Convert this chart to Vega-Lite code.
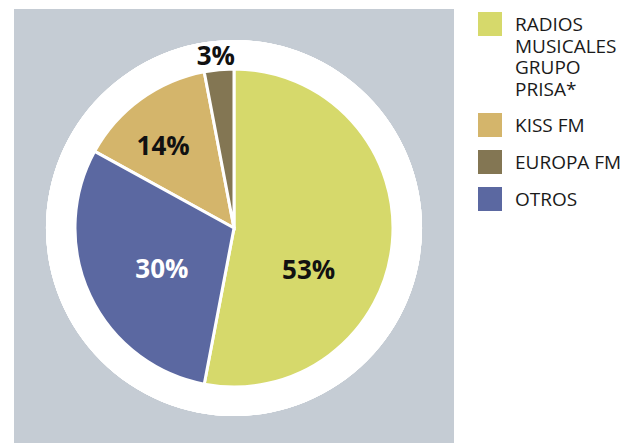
{
  "$schema": "https://vega.github.io/schema/vega-lite/v6.json",
  "width": 440,
  "height": 438,
  "autosize": {"type": "none"},
  "padding": {"left": 14, "top": 9, "right": 174, "bottom": 0},
  "background": "white",
  "view": {"fill": "#C5CCD4", "stroke": null},
  "data": {
    "values": [
      {"cat": "RADIOS MUSICALES GRUPO PRISA*", "v": 53, "pct": "53%"},
      {"cat": "KISS FM", "v": 14, "pct": "14%"},
      {"cat": "EUROPA FM", "v": 3, "pct": "3%"},
      {"cat": "OTROS", "v": 30, "pct": "30%"}
    ]
  },
  "layer": [
    {
      "mark": {"type": "arc", "radius": 188, "theta": 6.2832, "fill": "white", "stroke": null}
    },
    {
      "mark": {"type": "arc", "outerRadius": 159, "stroke": "white", "strokeWidth": 3},
      "encoding": {
        "theta": {"field": "v", "type": "quantitative", "stack": true},
        "order": {"field": "cat", "sort": "descending"},
        "color": {
          "field": "cat",
          "type": "nominal",
          "scale": {
            "domain": ["RADIOS MUSICALES GRUPO PRISA*", "KISS FM", "EUROPA FM", "OTROS"],
            "range": ["#D6D96B", "#D4B56B", "#837653", "#5B68A1"]
          },
          "legend": {
            "title": null,
            "orient": "none",
            "legendX": 464,
            "legendY": 3,
            "padding": 0,
            "symbolType": "square",
            "symbolSize": 576,
            "symbolStrokeWidth": 0,
            "symbolOpacity": 1,
            "labelFont": "Open Sans",
            "labelFontSize": 19,
            "labelColor": "#1a1a1a",
            "labelOffset": 13,
            "labelLimit": 0,
            "labelBaseline": "top",
            "rowPadding": 13,
            "labelExpr": "datum.label == 'RADIOS MUSICALES GRUPO PRISA*' ? ['RADIOS','MUSICALES','GRUPO','PRISA*'] : datum.label",
            "encoding": {"labels": {"dy": {"value": -8}, "lineHeight": {"value": 21.5}}}
          }
        }
      }
    },
    {
      "mark": {"type": "text", "radius": 83, "dx": -8, "dy": 35, "font": "Open Sans", "fontSize": 26, "fontWeight": "bold", "color": "#111111"},
      "encoding": {
        "theta": {"field": "v", "type": "quantitative", "stack": true},
        "order": {"field": "cat", "sort": "descending"},
        "text": {"condition": {"test": "datum.cat === 'RADIOS MUSICALES GRUPO PRISA*'", "field": "pct"}, "value": ""}
      }
    },
    {
      "mark": {"type": "text", "radius": 83, "dx": 3, "dy": 7, "font": "Open Sans", "fontSize": 26, "fontWeight": "bold", "color": "#ffffff"},
      "encoding": {
        "theta": {"field": "v", "type": "quantitative", "stack": true},
        "order": {"field": "cat", "sort": "descending"},
        "text": {"condition": {"test": "datum.cat === 'OTROS'", "field": "pct"}, "value": ""}
      }
    },
    {
      "mark": {"type": "text", "radius": 107, "dx": -8, "dy": 6, "font": "Open Sans", "fontSize": 26, "fontWeight": "bold", "color": "#111111"},
      "encoding": {
        "theta": {"field": "v", "type": "quantitative", "stack": true},
        "order": {"field": "cat", "sort": "descending"},
        "text": {"condition": {"test": "datum.cat === 'KISS FM'", "field": "pct"}, "value": ""}
      }
    },
    {
      "mark": {"type": "text", "radius": 172, "dx": -2, "dy": 0, "font": "Open Sans", "fontSize": 26, "fontWeight": "bold", "color": "#111111"},
      "encoding": {
        "theta": {"field": "v", "type": "quantitative", "stack": true},
        "order": {"field": "cat", "sort": "descending"},
        "text": {"condition": {"test": "datum.cat === 'EUROPA FM'", "field": "pct"}, "value": ""}
      }
    }
  ]
}
